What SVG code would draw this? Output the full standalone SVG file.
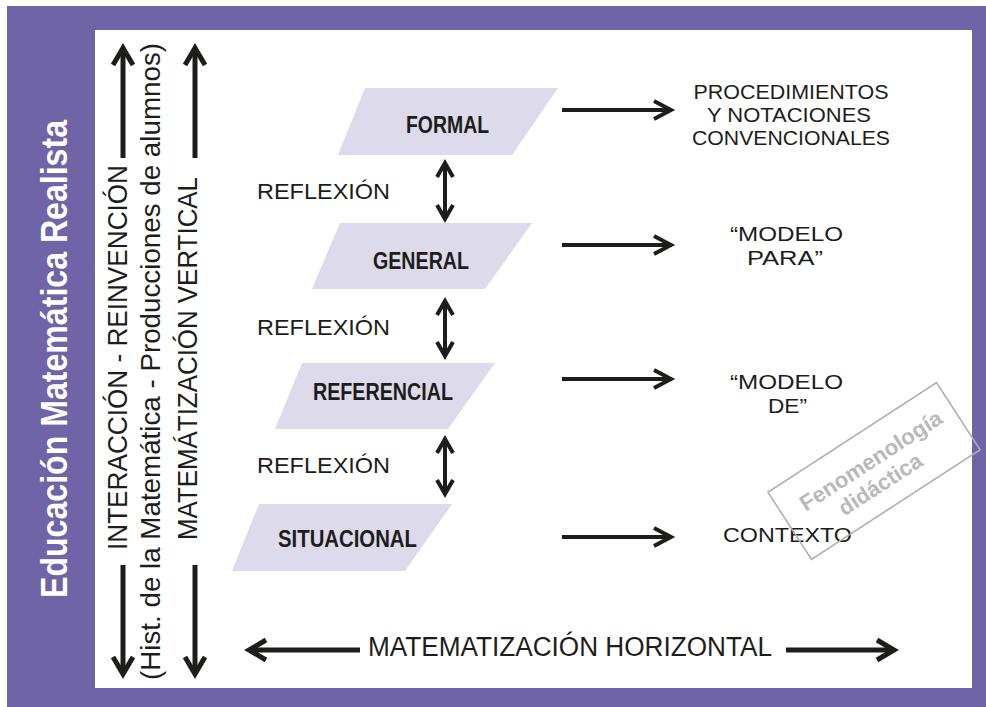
<svg xmlns="http://www.w3.org/2000/svg" width="986" height="707" viewBox="0 0 986 707">
  <style>
    .t { font-family: "Liberation Sans", Arial, sans-serif; fill: #1d1d1b; }
    .rt { font-family: "Liberation Sans", Arial, sans-serif; fill: #1d1d1b; font-size: 20px; text-anchor: middle; }
    .lbl { font-family: "Liberation Sans", Arial, sans-serif; font-weight: bold; font-size: 23px; fill: #1d1d1b; text-anchor: middle; }
    .node { fill: #dddaeb; stroke: none; }
    .conn { stroke: #1d1d1b; fill: none; stroke-linecap: butt; }
    .wm { font-family: "Liberation Sans", Arial, sans-serif; font-weight: bold; font-size: 22px; fill: #b9b9b9; text-anchor: middle; }
  </style>
  <defs>
    <marker id="ah" markerUnits="userSpaceOnUse" markerWidth="26" markerHeight="26" viewBox="-20 -13 26 26" refX="0" refY="0" orient="auto-start-reverse" overflow="visible">
      <path d="M-17,-9 L0,0 L-17,9" fill="none" stroke="#1d1d1b" stroke-width="4"/>
    </marker>
    <marker id="av" markerUnits="userSpaceOnUse" markerWidth="28" markerHeight="28" viewBox="-21 -14 28 28" refX="0" refY="0" orient="auto-start-reverse" overflow="visible">
      <path d="M-17,-10 L0,0 L-17,10" fill="none" stroke="#1d1d1b" stroke-width="5"/>
    </marker>
    <marker id="ad" markerUnits="userSpaceOnUse" markerWidth="24" markerHeight="24" viewBox="-18 -12 24 24" refX="0" refY="0" orient="auto-start-reverse" overflow="visible">
      <path d="M-14,-8 L0,0 L-14,8" fill="none" stroke="#1d1d1b" stroke-width="4"/>
    </marker>
  </defs>

  <rect x="0" y="0" width="986" height="707" fill="#ffffff"/>
  <rect id="frame" x="7" y="6" width="979" height="701" fill="#6e64a6"/>
  <rect id="panel" x="95" y="30" width="877" height="658" fill="#ffffff"/>

  <g id="title">
    <text class="t" transform="translate(67,359) rotate(-90)" text-anchor="middle" font-size="36" font-weight="bold" style="fill:#ffffff" textLength="478" lengthAdjust="spacingAndGlyphs">Educación Matemática Realista</text>
  </g>

  <g id="axis-labels">
    <text class="t" transform="translate(127,357.5) rotate(-90)" text-anchor="middle" font-size="28" textLength="385" lengthAdjust="spacingAndGlyphs">INTERACCIÓN - REINVENCIÓN</text>
    <text class="t" transform="translate(160,361.5) rotate(-90)" text-anchor="middle" font-size="28" textLength="637" lengthAdjust="spacingAndGlyphs">(Hist. de la Matemática - Producciones de alumnos)</text>
    <text class="t" transform="translate(197,358.5) rotate(-90)" text-anchor="middle" font-size="28" textLength="363" lengthAdjust="spacingAndGlyphs">MATEMÁTIZACIÓN VERTICAL</text>
    <text class="t" x="570" y="656" text-anchor="middle" font-size="27" textLength="404" lengthAdjust="spacingAndGlyphs">MATEMATIZACIÓN HORIZONTAL</text>
  </g>

  <g id="formal">
    <polygon class="node" points="365,88 558,88 512,155 338,155"/>
    <text class="lbl" x="447.5" y="133" textLength="83" lengthAdjust="spacingAndGlyphs">FORMAL</text>
  </g>
  <g id="general">
    <polygon class="node" points="340,223 532,223 485,289 312,289"/>
    <text class="lbl" x="421" y="269" textLength="96" lengthAdjust="spacingAndGlyphs">GENERAL</text>
  </g>
  <g id="referencial">
    <polygon class="node" points="302,363 495,363 448,429 275,429"/>
    <text class="lbl" x="383" y="400" textLength="140" lengthAdjust="spacingAndGlyphs">REFERENCIAL</text>
  </g>
  <g id="situacional">
    <polygon class="node" points="259,504 452,504 405,571 232,571"/>
    <text class="lbl" x="347.5" y="547" textLength="139" lengthAdjust="spacingAndGlyphs">SITUACIONAL</text>
  </g>

  <g id="reflexion-labels">
    <text class="t" x="257" y="199" font-size="22" textLength="133" lengthAdjust="spacingAndGlyphs">REFLEXIÓN</text>
    <text class="t" x="257" y="335" font-size="22" textLength="133" lengthAdjust="spacingAndGlyphs">REFLEXIÓN</text>
    <text class="t" x="257" y="473" font-size="22" textLength="133" lengthAdjust="spacingAndGlyphs">REFLEXIÓN</text>
  </g>

  <g id="procedimientos">
    <text class="rt" x="791" y="99" textLength="195" lengthAdjust="spacingAndGlyphs">PROCEDIMIENTOS</text>
    <text class="rt" x="789" y="122" textLength="164" lengthAdjust="spacingAndGlyphs">Y NOTACIONES</text>
    <text class="rt" x="791" y="145" textLength="198" lengthAdjust="spacingAndGlyphs">CONVENCIONALES</text>
  </g>
  <g id="modelo-para">
    <text class="rt" x="786.5" y="241" textLength="113" lengthAdjust="spacingAndGlyphs">“MODELO</text>
    <text class="rt" x="785" y="265" textLength="76" lengthAdjust="spacingAndGlyphs">PARA”</text>
  </g>
  <g id="modelo-de">
    <text class="rt" x="786.5" y="389" textLength="113" lengthAdjust="spacingAndGlyphs">“MODELO</text>
    <text class="rt" x="787.5" y="413" textLength="39" lengthAdjust="spacingAndGlyphs">DE”</text>
  </g>
  <g id="contexto">
    <text class="rt" x="787.5" y="542" textLength="129" lengthAdjust="spacingAndGlyphs">CONTEXTO</text>
  </g>

  <g id="connectors">
    <line class="conn" stroke-width="5" x1="123" y1="158" x2="123" y2="48" marker-end="url(#av)"/>
    <line class="conn" stroke-width="5" x1="123" y1="565" x2="123" y2="674" marker-end="url(#av)"/>
    <line class="conn" stroke-width="5" x1="195" y1="158" x2="195" y2="48" marker-end="url(#av)"/>
    <line class="conn" stroke-width="5" x1="195" y1="565" x2="195" y2="674" marker-end="url(#av)"/>

    <line class="conn" stroke-width="4" x1="445" y1="163" x2="445" y2="219" marker-start="url(#ad)" marker-end="url(#ad)"/>
    <line class="conn" stroke-width="4" x1="445" y1="301" x2="445" y2="356" marker-start="url(#ad)" marker-end="url(#ad)"/>
    <line class="conn" stroke-width="4" x1="445" y1="439" x2="445" y2="494" marker-start="url(#ad)" marker-end="url(#ad)"/>

    <line class="conn" stroke-width="4" x1="562" y1="110" x2="671" y2="110" marker-end="url(#ah)"/>
    <line class="conn" stroke-width="4" x1="562" y1="245" x2="671" y2="245" marker-end="url(#ah)"/>
    <line class="conn" stroke-width="4" x1="562" y1="379" x2="671" y2="379" marker-end="url(#ah)"/>
    <line class="conn" stroke-width="4" x1="562" y1="537" x2="671" y2="537" marker-end="url(#ah)"/>

    <line class="conn" stroke-width="5" x1="360" y1="650" x2="249" y2="650" marker-end="url(#av)"/>
    <line class="conn" stroke-width="5" x1="786" y1="650" x2="894" y2="650" marker-end="url(#av)"/>
  </g>

  <g id="watermark" transform="translate(874,471) rotate(-33)">
    <rect x="-100.5" y="-40" width="201" height="80" fill="none" stroke="#b0b0b0" stroke-width="1.6"/>
    <text class="wm" x="3" y="-3" textLength="165" lengthAdjust="spacingAndGlyphs">Fenomenología</text>
    <text class="wm" x="-2" y="22" textLength="95" lengthAdjust="spacingAndGlyphs">didáctica</text>
  </g>
</svg>
